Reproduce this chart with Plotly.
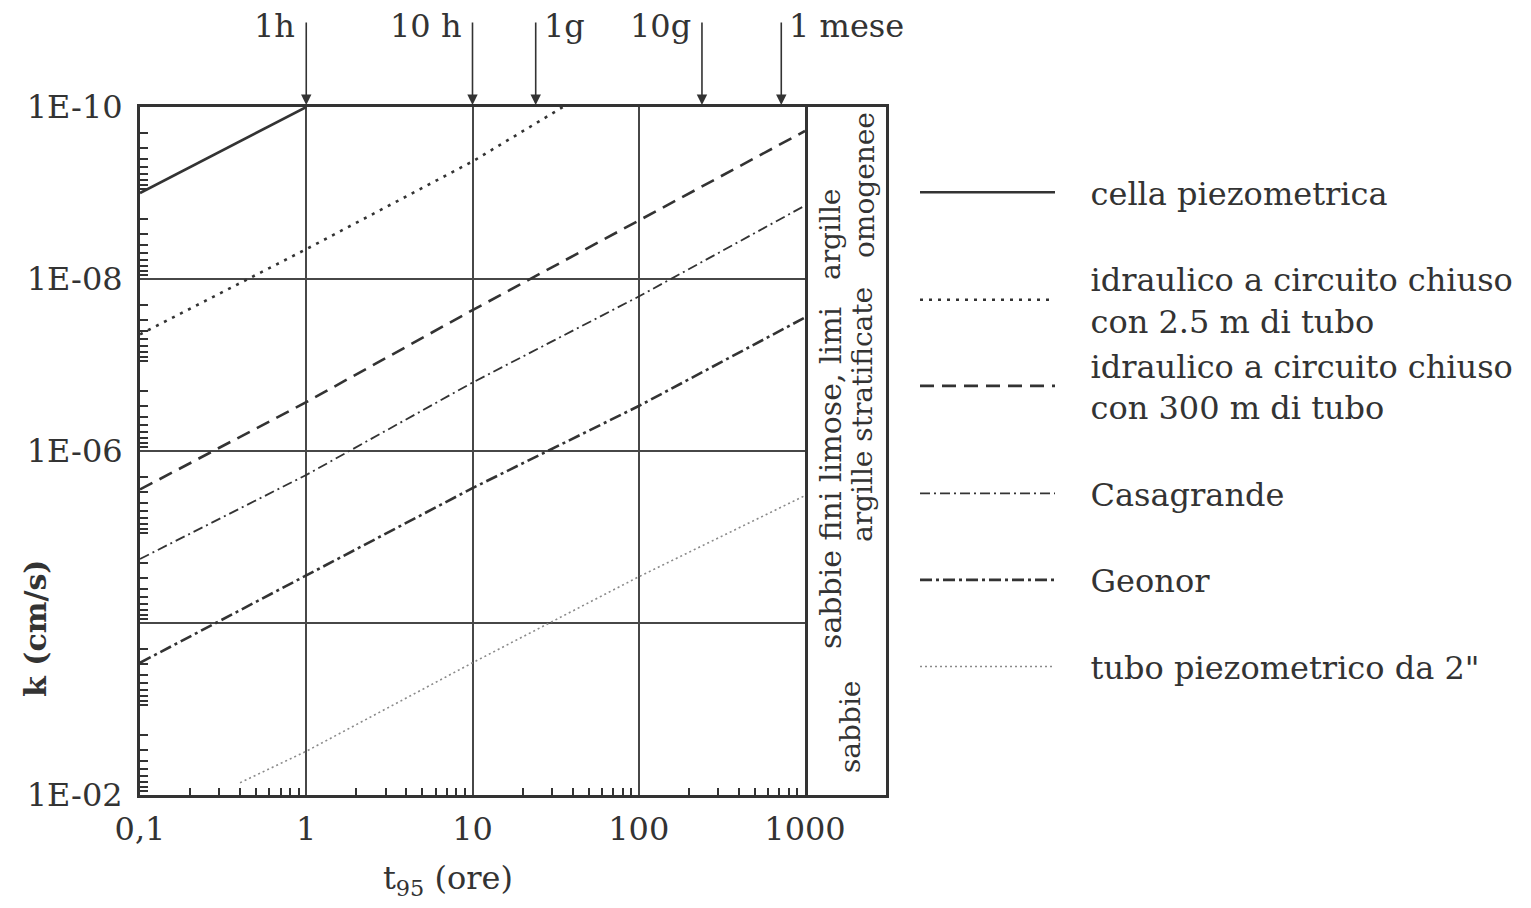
import numpy as np
import plotly.graph_objects as go

# ---------------- data ----------------
# t95 in hours, k in cm/s
cella_t = [0.1, 1]
cella_k = [1.0e-9, 1.0e-10]

idr25_t = [0.1, 1, 10, 35]
idr25_k = [4.4e-8, 4.5e-9, 4.3e-10, 1.0e-10]

idr300_t = [0.1, 1, 10, 100, 1000]
idr300_k = [2.8e-6, 2.7e-7, 2.3e-8, 2.1e-9, 1.9e-10]

casa_t = [0.1, 1, 10, 100, 1000]
casa_k = [1.8e-5, 1.9e-6, 1.6e-7, 1.6e-8, 1.4e-9]

geonor_t = [0.1, 1, 10, 100, 1000]
geonor_k = [2.9e-4, 2.8e-5, 2.7e-6, 3.0e-7, 2.8e-8]

tubo_t = [0.4, 1, 10, 100, 1000]
tubo_k = [7.2e-3, 3.1e-3, 2.9e-4, 2.9e-5, 3.3e-6]

series_names = [
    "cella piezometrica",
    "idraulico a circuito chiuso<br>con 2.5 m di tubo",
    "idraulico a circuito chiuso<br>con 300 m di tubo",
    "Casagrande",
    "Geonor",
    "tubo piezometrico da 2\"",
]
legend_groups = ["a", "b", "b", "c", "d", "e"]

x_tickvals = [0.1, 1, 10, 100, 1000]
x_ticktext = ["0,1", "1", "10", "100", "1000"]
y_tickvals = [1e-10, 1e-8, 1e-6, 1e-2]
y_ticktext = ["1E-10", "1E-08", "1E-06", "1E-02"]
y_unlabelled_grid = [1e-4]

arrow_hours = [1, 10, 24, 240, 720]
arrow_labels = ["1h", "10 h", "1g", "10g", "1 mese"]
arrow_label_side = ["left", "left", "right", "left", "right"]

zone_texts = ["argille", "omogenee", "sabbie fini limose, limi",
              "argille stratificate", "sabbie"]

# ---------------- style ----------------
FONT = "DejaVu Serif"
INK = "#333333"
GRID = "#474747"
W, H = 1531, 908
ML, MR, MT, MB = 140, 645, 107, 113
PW, PH = W - ML - MR, H - MT - MB
main_right_px = 805
strip_left_px = 808


def px_x(px):
    return (px - ML) / PW


def px_y(py):
    return (H - MB - py) / PH


styles = [
    dict(color=INK, width=2.6, dash="solid"),
    dict(color=INK, width=2.6, dash="3px,6px"),
    dict(color=INK, width=2.6, dash="14px,8px"),
    dict(color=INK, width=1.8, dash="10px,4px,2px,4px"),
    dict(color=INK, width=2.6, dash="12px,4px,3px,4px"),
    dict(color="#8a8a8a", width=1.6, dash="2px,3px"),
]

data_t = [cella_t, idr25_t, idr300_t, casa_t, geonor_t, tubo_t]
data_k = [cella_k, idr25_k, idr300_k, casa_k, geonor_k, tubo_k]

pad = "\u00a0\u00a0\u00a0"
fig = go.Figure()
for i, (t, k) in enumerate(zip(data_t, data_k)):
    label = "<br>".join(pad + part for part in series_names[i].split("<br>"))
    fig.add_trace(go.Scatter(
        x=t, y=k, mode="lines", name=label, line=styles[i],
        legendgroup=legend_groups[i], xaxis="x", yaxis="y", hoverinfo="skip",
    ))

# empty traces so that the zone strip and the extra grid axis exist
fig.add_trace(go.Scatter(x=[], y=[], xaxis="x2", yaxis="y2",
                         showlegend=False, hoverinfo="skip"))
fig.add_trace(go.Scatter(x=[], y=[], xaxis="x", yaxis="y3",
                         showlegend=False, hoverinfo="skip"))

x_minor = [m * 10.0 ** e for e in range(-1, 3) for m in range(2, 10)]
y_minor = [m * 10.0 ** e for e in range(-10, -2) for m in range(2, 10)]

fig.update_layout(
    width=W, height=H,
    margin=dict(l=ML, r=MR, t=MT, b=MB),
    paper_bgcolor="white", plot_bgcolor="white",
    font=dict(family=FONT, size=32, color=INK),
    showlegend=True,
    legend=dict(
        x=px_x(915), y=px_y(165), xanchor="left", yanchor="top",
        itemwidth=135, tracegroupgap=42, bgcolor="rgba(0,0,0,0)",
        traceorder="grouped",
        font=dict(family=FONT, size=32, color=INK), valign="middle",
    ),
    xaxis=dict(
        type="log", range=[-1, 3], domain=[0, px_x(main_right_px)], anchor="y",
        tickmode="array", tickvals=x_tickvals, ticktext=x_ticktext,
        ticks="", ticklabelstandoff=4,
        showgrid=True, gridcolor=GRID, gridwidth=2,
        showline=True, linecolor=INK, linewidth=3, mirror=True,
        zeroline=False,
        minor=dict(tickmode="array", tickvals=x_minor, ticks="inside",
                   ticklen=7, tickwidth=1.5, tickcolor=INK, showgrid=False),
        tickfont=dict(family=FONT, size=32, color=INK),
    ),
    yaxis=dict(
        type="log", range=[-2, -10], domain=[0, 1], anchor="x",
        tickmode="array", tickvals=y_tickvals, ticktext=y_ticktext,
        ticks="", ticklabelstandoff=8,
        showgrid=True, gridcolor=GRID, gridwidth=2,
        showline=True, linecolor=INK, linewidth=3, mirror=True,
        zeroline=False,
        minor=dict(tickmode="array", tickvals=y_minor, ticks="inside",
                   ticklen=8, tickwidth=1.5, tickcolor=INK, showgrid=False),
        tickfont=dict(family=FONT, size=32, color=INK),
    ),
    yaxis3=dict(
        type="log", range=[-2, -10], overlaying="y", anchor="x", side="left",
        tickmode="array", tickvals=y_unlabelled_grid, showticklabels=False,
        ticks="", showgrid=True, gridcolor=GRID, gridwidth=2,
        showline=False, zeroline=False,
    ),
    xaxis2=dict(
        domain=[px_x(strip_left_px), 1], anchor="y2", range=[0, 1],
        showticklabels=False, ticks="", showgrid=False, zeroline=False,
        showline=True, linecolor=INK, linewidth=2.5, mirror=True,
    ),
    yaxis2=dict(
        domain=[0, 1], anchor="x2", range=[0, 1],
        showticklabels=False, ticks="", showgrid=False, zeroline=False,
        showline=True, linecolor=INK, linewidth=2.5, mirror=True,
    ),
)

annotations = []
# arrows on top
for h, lab, side in zip(arrow_hours, arrow_labels, arrow_label_side):
    annotations.append(dict(
        x=np.log10(h), y=-10, xref="x", yref="y", text="",
        showarrow=True, ax=0, ay=-86, arrowhead=2, arrowsize=1.3,
        arrowwidth=1.6, arrowcolor=INK, standoff=2,
    ))
    annotations.append(dict(
        x=np.log10(h), y=px_y(26), xref="x", yref="paper", text=lab,
        showarrow=False, xanchor="right" if side == "left" else "left",
        xshift=-9 if side == "left" else 6, yanchor="middle",
        font=dict(family=FONT, size=32, color=INK),
    ))

# zone texts in the right strip (rotated)
zone_pos = [(830, 235), (864, 185), (830, 478), (862, 415), (850, 727)]
zone_sizes = [28, 28, 30, 28, 28]
for txt, (px, py), fs in zip(zone_texts, zone_pos, zone_sizes):
    annotations.append(dict(
        x=px_x(px), y=px_y(py), xref="paper", yref="paper", text=txt,
        textangle=-90, showarrow=False, xanchor="center", yanchor="middle",
        font=dict(family=FONT, size=fs, color=INK),
    ))

# axis titles
annotations.append(dict(
    x=px_x(35), y=px_y(628), xref="paper", yref="paper",
    text="<b>k (cm/s)</b>", textangle=-90, showarrow=False,
    xanchor="center", yanchor="middle",
    font=dict(family=FONT, size=30, color=INK),
))
annotations.append(dict(
    x=px_x(448), y=px_y(880), xref="paper", yref="paper",
    text="t<sub>95</sub> (ore)", showarrow=False,
    xanchor="center", yanchor="middle",
    font=dict(family=FONT, size=32, color=INK),
))

fig.update_layout(annotations=annotations)
fig.write_html("out.html", config={"displayModeBar": False},
               post_script="document.body.style.margin='0px';")
